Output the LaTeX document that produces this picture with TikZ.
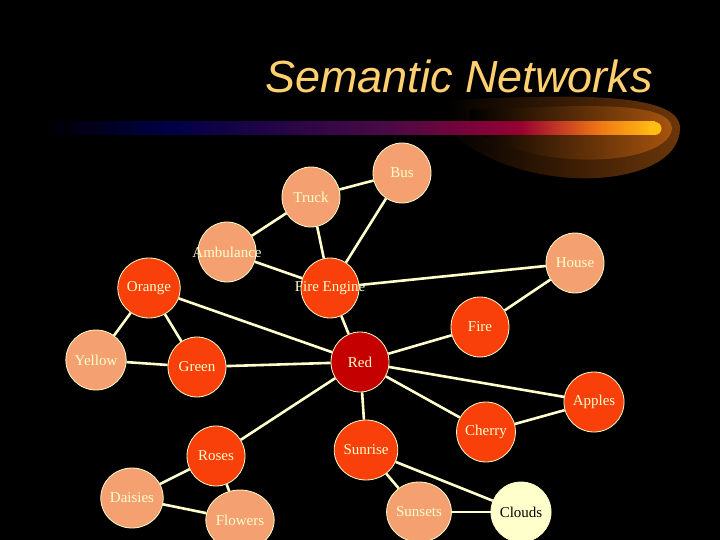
\documentclass[tikz,border=0pt]{standalone}
\usepackage{fontspec}
\newfontfamily\titlefont{Liberation Sans}
\setmainfont{Liberation Serif}
\usetikzlibrary{shapes.geometric}
\definecolor{lite}{RGB}{244,160,112}
\definecolor{mid}{RGB}{250,64,10}
\definecolor{dred}{RGB}{196,0,0}
\definecolor{cream}{RGB}{255,255,204}
\definecolor{ttl}{RGB}{255,208,112}
\definecolor{navy}{RGB}{0,0,70}
\definecolor{purp}{RGB}{70,10,70}
\definecolor{mag}{RGB}{150,0,50}
\definecolor{orng}{RGB}{240,120,20}
\definecolor{yel}{RGB}{255,190,20}
\newcommand\zw[1]{\makebox[0pt]{#1}}
\begin{document}
\begin{tikzpicture}[x=1pt,y=-1pt,
  nd/.style={ellipse,minimum width=58pt,minimum height=60pt,draw=cream,line width=0.8pt,
    text=cream,font=\fontsize{15}{15}\selectfont,inner sep=0pt},
  lt/.style={nd,fill=lite}, md/.style={nd,fill=mid}, dk/.style={nd,fill=dred},
  edge/.style={cream,line width=2.6pt}]
\fill[black] (0,0) rectangle (720,540);
\useasboundingbox (0,0) rectangle (720,540);
% swoosh glow
\shade[left color=black,right color=orng!45!black] (445,128) .. controls (520,200) and (680,190) .. (680,128) .. controls (680,90) and (560,95) .. (445,100) -- cycle;
\shade[left color=black,right color=orng!70!black] (470,128) .. controls (540,175) and (670,165) .. (672,128) .. controls (670,100) and (580,105) .. (470,110) -- cycle;
% bar
\shade[left color=black,right color=navy] (40,122) rectangle (170,135);
\shade[left color=navy,right color=purp] (170,122) rectangle (380,135);
\shade[left color=purp,right color=mag] (380,122) rectangle (520,135);
\shade[left color=mag,right color=orng] (520,122) rectangle (600,135);
\shade[left color=orng,right color=yel] (600,122) rectangle (655,135);
\fill[yel] (655,128.5) circle (6.5);
\node[text=ttl,font=\titlefont\itshape\fontsize{45}{45}\selectfont] (title) at (459,76) {Semantic Networks};
% nodes
\node[lt] (bus) at (402,173) {Bus};
\node[lt] (truck) at (311,197) {Truck};
\node[lt] (amb) at (227,252) {\zw{Ambulance}};
\node[lt] (house) at (575,263) {House};
\node[md] (orange) at (149,288) {Orange};
\node[md] (fe) at (330,288) {\zw{Fire Engine}};
\node[md] (fire) at (480,327) {Fire};
\node[lt] (yellow) at (96,360) {Yellow};
\node[md] (green) at (197,367) {Green};
\node[dk] (red) at (360,362) {Red};
\node[md] (apples) at (594,402) {Apples};
\node[md] (cherry) at (486,432) {Cherry};
\node[md] (sunrise) at (366,450) {Sunrise};
\node[md] (roses) at (216,456) {Roses};
\node[lt] (daisies) at (132,498) {Daisies};
\node[lt] (flowers) at (240,520) {Flowers};
\node[lt] (sunsets) at (419,512) {Sunsets};
\node[nd,fill=cream,text=black] (clouds) at (521,512) {Clouds};
% edges
\foreach \a/\b in {bus/truck,truck/amb,truck/fe,bus/fe,amb/fe,fe/house,house/fire,orange/yellow,orange/green,orange/red,fe/red,fire/red,yellow/green,green/red,red/apples,red/cherry,cherry/apples,red/sunrise,red/roses,roses/daisies,roses/flowers,daisies/flowers,sunrise/sunsets,sunrise/clouds,sunsets/clouds}
  \draw[edge] (\a) -- (\b);
\end{tikzpicture}
\end{document}
